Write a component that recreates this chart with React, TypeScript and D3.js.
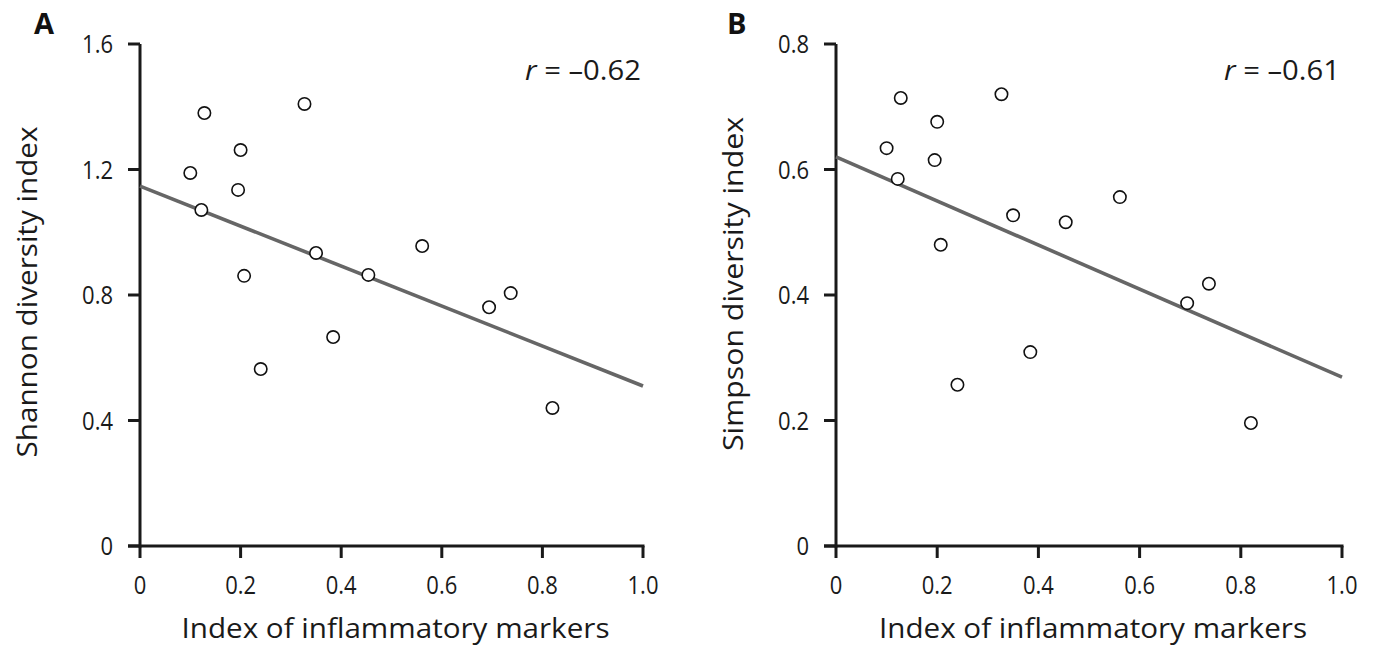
import React from "react";
import * as d3 from "d3";

const xIndex = [0.10, 0.128, 0.122, 0.20, 0.195, 0.327, 0.207, 0.24, 0.35, 0.384, 0.454, 0.561, 0.694, 0.737, 0.82];
const shannon = [1.189, 1.380, 1.071, 1.262, 1.135, 1.409, 0.861, 0.564, 0.934, 0.666, 0.864, 0.956, 0.761, 0.806, 0.440];
const simpson = [0.634, 0.714, 0.585, 0.676, 0.615, 0.720, 0.480, 0.257, 0.527, 0.309, 0.516, 0.556, 0.387, 0.418, 0.196];
const xTicks = [0, 0.2, 0.4, 0.6, 0.8, 1.0];
const xTickLabels = ["0", "0.2", "0.4", "0.6", "0.8", "1.0"];
const shannonTicks = [0, 0.4, 0.8, 1.2, 1.6];
const simpsonTicks = [0, 0.2, 0.4, 0.6, 0.8];
const shannonFit = [1.147, 0.51];
const simpsonFit = [0.62, 0.269];

const FONT = "'Open Sans', 'Noto Sans', sans-serif";
const INK = "#1a1a1a";
const TICK_SIZE = 25;
const TICK_SQUEEZE = 0.88;

type PanelProps = {
  left: number;
  right: number;
  letter: string;
  letterX: number;
  yLabel: string;
  yLabelX: number;
  yLabelY: number;
  yLabelLen: number;
  ys: number[];
  yMax: number;
  yTicks: number[];
  fit: number[];
  r: string;
};

function Panel(p: PanelProps) {
  const { left, right, letter, yLabel, ys, yMax, yTicks, fit, r } = p;
  const top = 44;
  const bottom = 546;
  const x = d3.scaleLinear().domain([0, 1]).range([left, right]);
  const y = d3.scaleLinear().domain([0, yMax]).range([bottom, top]);
  const line = d3.line<[number, number]>().x((d) => x(d[0])).y((d) => y(d[1]));
  const fitPts: [number, number][] = [[0, fit[0]], [1, fit[1]]];
  return (
    <g>
      <text x={p.letterX} y={34} fontFamily={FONT} fontWeight="bold" fontSize={29} fill="#111">
        {letter}
      </text>
      <line x1={left} x2={left} y1={top} y2={bottom + 1.5} stroke={INK} strokeWidth={3} />
      <line x1={left - 12} x2={right + 1.5} y1={bottom} y2={bottom} stroke={INK} strokeWidth={3} />
      {yTicks.map((t) => (
        <g key={"y" + t}>
          <line x1={left - 12} x2={left} y1={y(t)} y2={y(t)} stroke={INK} strokeWidth={3} />
          <text
            transform={`translate(${left - 27},${y(t)}) scale(${TICK_SQUEEZE},1)`}
            dy="0.36em"
            textAnchor="end"
            fontFamily={FONT}
            fontSize={TICK_SIZE}
            fill={INK}
          >
            {t === 0 ? "0" : t.toFixed(1)}
          </text>
        </g>
      ))}
      {xTicks.map((t, i) => (
        <g key={"x" + t}>
          <line x1={x(t)} x2={x(t)} y1={bottom} y2={bottom + 12} stroke={INK} strokeWidth={3} />
          <text
            transform={`translate(${x(t)},594) scale(${TICK_SQUEEZE},1)`}
            textAnchor="middle"
            fontFamily={FONT}
            fontSize={TICK_SIZE}
            fill={INK}
          >
            {xTickLabels[i]}
          </text>
        </g>
      ))}
      <path d={line(fitPts) || ""} stroke="#666" strokeWidth={3.6} fill="none" />
      {xIndex.map((xv, i) => (
        <circle key={i} cx={x(xv)} cy={y(ys[i])} r={6.2} fill="white" stroke="#111" strokeWidth={1.6} />
      ))}
      <text x={right - 2} y={80} textAnchor="end" fontFamily={FONT} fontSize={27} fill={INK} textLength={116} lengthAdjust="spacingAndGlyphs">
        <tspan fontStyle="italic">r</tspan> = –{r}
      </text>
      <text
        transform={`translate(${p.yLabelX},${p.yLabelY}) rotate(-90)`}
        textAnchor="middle"
        fontFamily={FONT}
        fontSize={27}
        fill={INK}
        textLength={p.yLabelLen}
        lengthAdjust="spacingAndGlyphs"
      >
        {yLabel}
      </text>
      <text
        x={(left + right) / 2 + 4}
        y={638}
        textAnchor="middle"
        fontFamily={FONT}
        fontSize={27}
        fill={INK}
        textLength={428}
        lengthAdjust="spacingAndGlyphs"
      >
        Index of inflammatory markers
      </text>
    </g>
  );
}

export default function App() {
  return (
    <svg width={1374} height={649} style={{ position: "absolute", left: 0, top: 0, background: "white" }}>
      <Panel left={140} right={643} letter="A" letterX={34} yLabel="Shannon diversity index" yLabelX={37} yLabelY={292} yLabelLen={331} ys={shannon} yMax={1.6} yTicks={shannonTicks} fit={shannonFit} r="0.62" />
      <Panel left={836} right={1342} letter="B" letterX={727} yLabel="Simpson diversity index" yLabelX={743} yLabelY={284} yLabelLen={334} ys={simpson} yMax={0.8} yTicks={simpsonTicks} fit={simpsonFit} r="0.61" />
    </svg>
  );
}
